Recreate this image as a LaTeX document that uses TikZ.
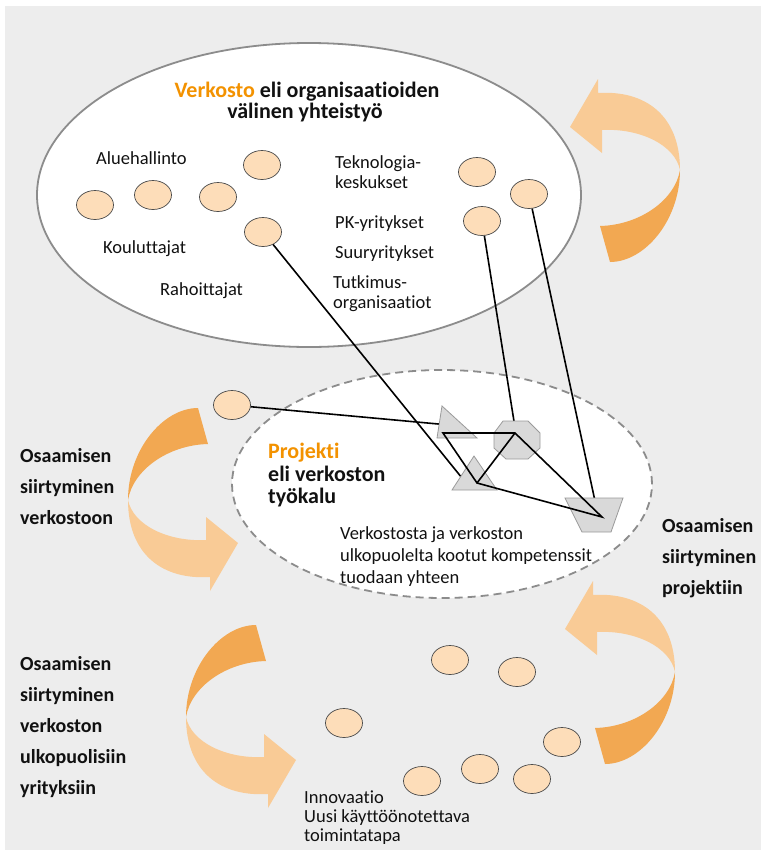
\documentclass[tikz,border=0pt]{standalone}
\usepackage{fontspec}
\setmainfont{Carlito}[Ligatures={NoCommon}]
\usetikzlibrary{shapes.geometric}

\definecolor{bggray}{HTML}{EDEDED}
\definecolor{rimgray}{HTML}{8C8C8C}
\definecolor{peach}{HTML}{FDDDB9}
\definecolor{darkorange}{HTML}{F2A852}
\definecolor{lightorange}{HTML}{F9CB96}
\definecolor{titleorange}{HTML}{F39200}
\definecolor{shapegray}{HTML}{D9D9D9}
\definecolor{shapeedge}{HTML}{9A9A9A}
\definecolor{ink}{HTML}{111111}

% curved two-tone arrow; origin = the point where the two halves meet
\newcommand\bendarrow[3]{%
  \begin{scope}[shift={(#1,#2)},rotate=#3]
    \fill[lightorange] (-82,-77) -- (-82,-91) -- (-110,-43) -- (-78,-17) -- (-78,-40)
      .. controls (-40,-42) and (-5,-25) .. (0,0)
      .. controls (0,-55) and (-35,-80) .. (-82,-77) -- cycle;
    \fill[darkorange] (0,0) .. controls (0,50) and (-35,92) .. (-70,92)
      -- (-80,56) .. controls (-40,55) and (-5,30) .. (0,0) -- cycle;
  \end{scope}}

\begin{document}
\begin{tikzpicture}[x=1pt,y=-1pt,
  every node/.style={text=ink},
  org/.style={ellipse, draw=black!70, line width=0.7pt, fill=peach,
    minimum width=37pt, minimum height=29pt, inner sep=0pt},
  lbl/.style={anchor=base west, inner sep=0pt, font=\fontsize{18.5}{21}\selectfont},
  side/.style={anchor=base west, inner sep=0pt, font=\fontsize{20}{23}\selectfont\bfseries},
  head/.style={inner sep=0pt, font=\fontsize{22}{25}\selectfont\bfseries},
  link/.style={line width=1.6pt, black},
  part/.style={fill=shapegray, draw=shapeedge, line width=0.8pt}]

\useasboundingbox (0,0) rectangle (761,855);
\fill[bggray] (5,6) rectangle (761,850);

% curved arrows
\bendarrow{680}{170}{0}
\bendarrow{675}{672}{0}
\bendarrow{128}{500}{180}
\bendarrow{186}{717}{180}

% the network and the project
\node[ellipse, draw=rimgray, line width=1.8pt, fill=white,
  minimum width=544pt, minimum height=304pt] (net) at (309,195) {};
\node[ellipse, draw=rimgray, line width=1.8pt, fill=white,
  dash pattern=on 8pt off 5pt,
  minimum width=420pt, minimum height=228pt] (proj) at (442,484) {};

% network title and labels
\node[head, anchor=base] (t1) at (307,97) {\textcolor{titleorange}{Verkosto} eli organisaatioiden};
\node[head, anchor=base] (t2) at (305,118) {välinen yhteistyö};
\node[lbl] (l1) at (96,164) {Aluehallinto};
\node[lbl] (l2) at (103,253) {Kouluttajat};
\node[lbl] (l3) at (160,295) {Rahoittajat};
\node[lbl] (l4) at (335,168) {Teknologia-};
\node[lbl] (l5) at (335,188) {keskukset};
\node[lbl] (l6) at (335,228) {PK-yritykset};
\node[lbl] (l7) at (335,258) {Suuryritykset};
\node[lbl] (l8) at (333,288) {Tutkimus-};
\node[lbl] (l9) at (333,308) {organisaatiot};

% organisations in the network
\node[org] (c1) at (95,205) {};
\node[org] (c2) at (153,195) {};
\node[org] (c3) at (218,197) {};
\node[org] (c4) at (262,165) {};
\node[org] (c5) at (263,232) {};
\node[org] (r1) at (477,172) {};
\node[org] (r2) at (529,194) {};
\node[org] (r3) at (482,221) {};
\node[org] (m1) at (232,405) {};

% project texts
\node[head, anchor=base west] (p1t) at (268,458) {\textcolor{titleorange}{Projekti}};
\node[head, anchor=base west] (p2t) at (268,481) {eli verkoston};
\node[head, anchor=base west] (p3t) at (268,503) {työkalu};
\node[lbl] (q1) at (340,539) {Verkostosta ja verkoston};
\node[lbl] (q2) at (340,561) {ulkopuolelta kootut kompetenssit};
\node[lbl] (q3) at (340,583) {tuodaan yhteen};

% centres of the project parts
\coordinate (tri1c) at (460,426);
\coordinate (tri2c) at (462,478);
\coordinate (octc) at (517,440);
\coordinate (trapc) at (598,515);

% members pulled into the project
\draw[link] (m1) -- (tri1c);
\draw[link] (c5) -- (tri2c);
\draw[link] (r3) -- (octc);
\draw[link] (r2) -- (trapc);

% project parts
\filldraw[part] (442,406) -- (437,438) -- (477,438) -- cycle;
\filldraw[part] (503,421) -- (528,421) -- (540,433) -- (540,448) -- (528,459)
  -- (506,459) -- (494,448) -- (494,433) -- cycle;
\filldraw[part] (474,456) -- (497,490) -- (452,490) -- cycle;
\filldraw[part] (565,498) -- (623,498) -- (611,532) -- (582,532) -- cycle;

% links between the parts
\coordinate (k1) at (443,433);
\coordinate (k2) at (515,433);
\coordinate (k3) at (477,483);
\coordinate (k4) at (602,517);
\draw[link, line join=miter] (k1) -- (k2) -- (k4) -- (k3) -- cycle;
\draw[link] (k3) -- (k2);

% side labels
\node[side] (s1) at (20,462) {Osaamisen};
\node[side] (s2) at (20,493) {siirtyminen};
\node[side] (s3) at (20,524) {verkostoon};
\node[side] (s4) at (662,532) {Osaamisen};
\node[side] (s5) at (662,563) {siirtyminen};
\node[side] (s6) at (662,594) {projektiin};
\node[side] (s7) at (20,670) {Osaamisen};
\node[side] (s8) at (20,701) {siirtyminen};
\node[side] (s9) at (20,732) {verkoston};
\node[side] (s10) at (20,763) {ulkopuolisiin};
\node[side] (s11) at (20,794) {yrityksiin};

% companies outside the network
\node[org] (b1) at (450,660) {};
\node[org] (b2) at (517,672) {};
\node[org] (b3) at (344,723) {};
\node[org] (b4) at (562,742) {};
\node[org] (b5) at (422,781) {};
\node[org] (b6) at (480,769) {};
\node[org] (b7) at (532,779) {};

\node[lbl] (n1) at (304,803) {Innovaatio};
\node[lbl] (n2) at (304,822) {Uusi käyttöönotettava};
\node[lbl] (n3) at (304,841) {toimintatapa};
\end{tikzpicture}
\end{document}
